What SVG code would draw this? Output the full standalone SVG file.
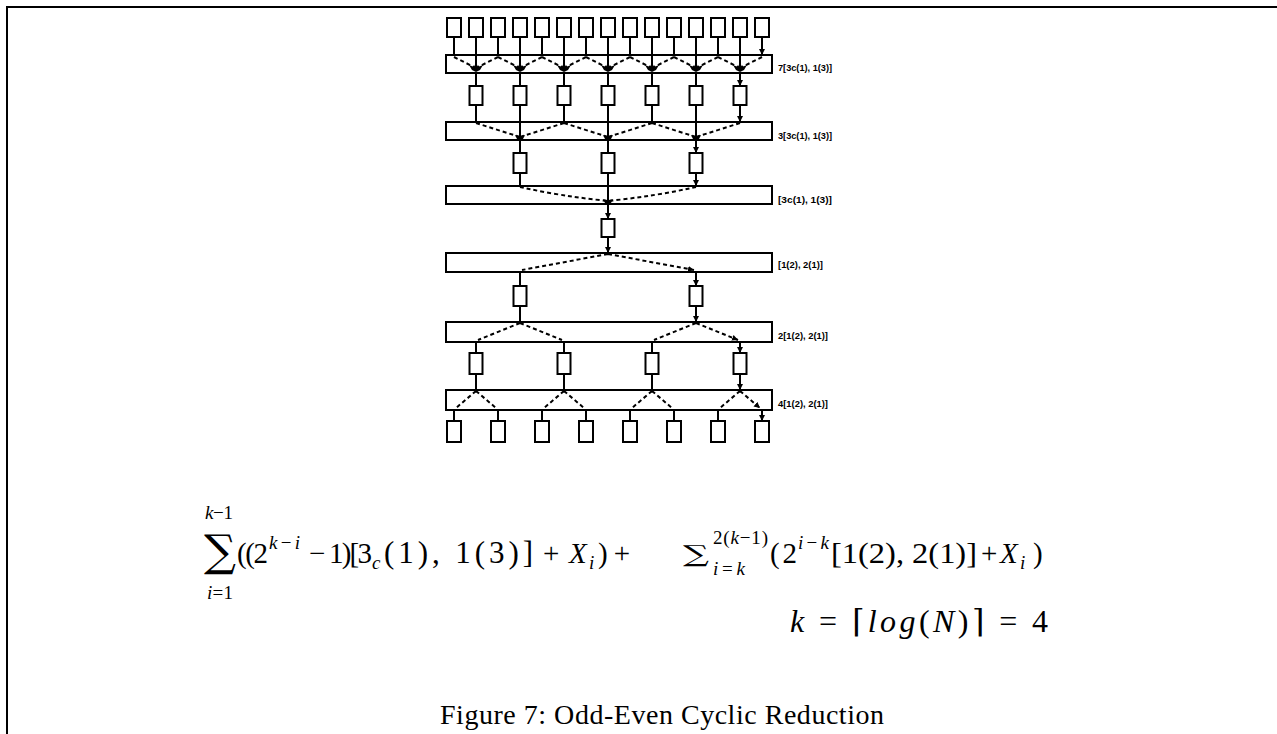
<svg xmlns="http://www.w3.org/2000/svg" width="1277" height="734" viewBox="0 0 1277 734">
<style>
.bx{fill:#fff;stroke:#000;stroke-width:2}
.bar{fill:#fff;stroke:#000;stroke-width:2}
.ln{stroke:#000;stroke-width:2;fill:none}
.ar{stroke:#000;stroke-width:2;fill:none;marker-end:url(#ah)}
.ds{stroke:#000;stroke-width:2;fill:none;stroke-dasharray:4 3}
.dsa{stroke:#000;stroke-width:2;fill:none;stroke-dasharray:4 3;marker-end:url(#ah)}
.lbl{font-family:"Liberation Sans",Arial,sans-serif;font-size:9.5px;font-weight:bold;fill:#000}
.m{font-family:"Liberation Serif","DejaVu Serif",serif;font-size:29px;fill:#000}
.s{font-family:"Liberation Serif","DejaVu Serif",serif;font-size:19px;fill:#000}
.sig{font-family:"DejaVu Serif",serif;fill:#000}
.it{font-style:italic}
.cap{font-family:"Liberation Serif","DejaVu Serif",serif;font-size:28px;fill:#000}
</style>
<defs>
<marker id="ah" markerUnits="userSpaceOnUse" markerWidth="7" markerHeight="7" refX="6" refY="3.5" orient="auto"><path d="M0,0.5 L6,3.5 L0,6.5 z" fill="#000"/></marker>
<path id="star" d="M-7,-3 L-2,-1 L0,-6 L2,-1 L7,-3 L4,2 L0,4 L-4,2 z" fill="#000"/>
<path id="star2" d="M-5,-2 L-1,-1 L0,-5 L1,-1 L5,-2 L3,2 L0,3 L-3,2 z" fill="#000"/>
</defs>
<path class="ln" d="M7,734 V7 H1277"/>
<g id="row0">
<rect class="bx" x="447" y="18" width="14" height="19"/><rect class="bx" x="469" y="18" width="14" height="19"/><rect class="bx" x="491" y="18" width="14" height="19"/><rect class="bx" x="513" y="18" width="14" height="19"/><rect class="bx" x="535" y="18" width="14" height="19"/><rect class="bx" x="557" y="18" width="14" height="19"/><rect class="bx" x="579" y="18" width="14" height="19"/><rect class="bx" x="601" y="18" width="14" height="19"/><rect class="bx" x="623" y="18" width="14" height="19"/><rect class="bx" x="645" y="18" width="14" height="19"/><rect class="bx" x="667" y="18" width="14" height="19"/><rect class="bx" x="689" y="18" width="14" height="19"/><rect class="bx" x="711" y="18" width="14" height="19"/><rect class="bx" x="733" y="18" width="14" height="19"/><rect class="bx" x="755" y="18" width="14" height="19"/>
</g>
<g id="bar1"><rect class="bar" x="446" y="55" width="326" height="18"/><text class="lbl" x="778" y="71" textLength="54" lengthAdjust="spacingAndGlyphs">7[3c(1), 1(3)]</text></g>
<g id="lvl1">
<rect class="bx" x="469.5" y="86" width="13" height="19"/><rect class="bx" x="513.5" y="86" width="13" height="19"/><rect class="bx" x="557.5" y="86" width="13" height="19"/><rect class="bx" x="601.5" y="86" width="13" height="19"/><rect class="bx" x="645.5" y="86" width="13" height="19"/><rect class="bx" x="689.5" y="86" width="13" height="19"/><rect class="bx" x="733.5" y="86" width="13" height="19"/>
</g>
<g id="bar2"><rect class="bar" x="446" y="122" width="326" height="18"/><text class="lbl" x="778" y="139" textLength="54" lengthAdjust="spacingAndGlyphs">3[3c(1), 1(3)]</text></g>
<g id="lvl2">
<rect class="bx" x="513.5" y="153" width="13" height="20"/><rect class="bx" x="601.5" y="153" width="13" height="20"/><rect class="bx" x="689.5" y="153" width="13" height="20"/>
</g>
<g id="bar3"><rect class="bar" x="446" y="186" width="326" height="18"/><text class="lbl" x="778" y="203" textLength="54" lengthAdjust="spacingAndGlyphs">[3c(1), 1(3)]</text></g>
<g id="lvl3"><rect class="bx" x="601.5" y="219" width="13" height="18"/></g>
<g id="bar4"><rect class="bar" x="446" y="253" width="326" height="19"/><text class="lbl" x="778" y="268" textLength="45" lengthAdjust="spacingAndGlyphs">[1(2), 2(1)]</text></g>
<g id="lvl4"><rect class="bx" x="513.5" y="286" width="13" height="20"/><rect class="bx" x="689.5" y="286" width="13" height="20"/></g>
<g id="bar5"><rect class="bar" x="446" y="322" width="326" height="20"/><text class="lbl" x="778" y="339" textLength="50" lengthAdjust="spacingAndGlyphs">2[1(2), 2(1)]</text></g>
<g id="lvl5"><rect class="bx" x="469.5" y="353" width="13" height="21"/><rect class="bx" x="557.5" y="353" width="13" height="21"/><rect class="bx" x="645.5" y="353" width="13" height="21"/><rect class="bx" x="733.5" y="353" width="13" height="21"/></g>
<g id="bar6"><rect class="bar" x="446" y="390" width="326" height="20"/><text class="lbl" x="778" y="407" textLength="50" lengthAdjust="spacingAndGlyphs">4[1(2), 2(1)]</text></g>
<g id="row7">
<rect class="bx" x="447" y="421" width="14" height="21"/><rect class="bx" x="491" y="421" width="14" height="21"/><rect class="bx" x="535" y="421" width="14" height="21"/><rect class="bx" x="579" y="421" width="14" height="21"/><rect class="bx" x="623" y="421" width="14" height="21"/><rect class="bx" x="667" y="421" width="14" height="21"/><rect class="bx" x="711" y="421" width="14" height="21"/><rect class="bx" x="755" y="421" width="14" height="21"/>
</g>
<g id="connectors">
<path class="ar" d="M454,37V55M476,37V55M498,37V55M520,37V55M542,37V55M564,37V55M586,37V55M608,37V55M630,37V55M652,37V55M674,37V55M696,37V55M718,37V55M740,37V55M762,37V55"/>
<path class="ln" d="M476,55V67M520,55V67M564,55V67M608,55V67M652,55V67M696,55V67M740,55V67"/>
<path class="ds" d="M454,57L476,68M498,57L476,68M498,57L520,68M542,57L520,68M542,57L564,68M586,57L564,68M586,57L608,68M630,57L608,68M630,57L652,68M674,57L652,68M674,57L696,68M718,57L696,68M718,57L740,68M762,57L740,68"/>
<use href="#star" x="476" y="68"/><use href="#star" x="520" y="68"/><use href="#star" x="564" y="68"/><use href="#star" x="608" y="68"/><use href="#star" x="652" y="68"/><use href="#star" x="696" y="68"/><use href="#star" x="740" y="68"/>
<path class="ar" d="M476,73V86M520,73V86M564,73V86M608,73V86M652,73V86M696,73V86M740,73V86"/>
<path class="ar" d="M476,105V122M520,105V122M564,105V122M608,105V122M652,105V122M696,105V122M740,105V122"/>
<path class="ln" d="M520,122V137M608,122V137M696,122V137"/>
<path class="ds" d="M476,123L520,137M564,123L520,137M564,123L608,137M652,123L608,137M652,123L696,137M740,123L696,137"/>
<use href="#star2" x="520" y="137"/><use href="#star2" x="608" y="137"/><use href="#star2" x="696" y="137"/>
<path class="ar" d="M520,140V153M608,140V153M696,140V153"/>
<path class="ar" d="M520,173V186M608,173V186M696,173V186"/>
<path class="ln" d="M608,186V201"/>
<path class="ds" d="M520,187Q560,196 608,201M696,187Q656,196 608,201"/>
<use href="#star2" x="608" y="201"/>
<path class="ar" d="M608,204V219"/>
<path class="ar" d="M608,237V253"/>
<path class="dsa" d="M608,254L522,270M608,254L694,270"/>
<path class="ar" d="M520,272V286M696,272V286"/>
<path class="ar" d="M520,306V322M696,306V322"/>
<path class="dsa" d="M520,323L478,340M520,323L562,340M696,323L654,340M696,323L738,340"/>
<path class="ar" d="M476,342V353M564,342V353M652,342V353M740,342V353"/>
<path class="ar" d="M476,374V390M564,374V390M652,374V390M740,374V390"/>
<path class="dsa" d="M476,391L456,408M476,391L496,408M564,391L544,408M564,391L584,408M652,391L632,408M652,391L672,408M740,391L720,408M740,391L760,408"/>
<path class="ar" d="M454,410V421M498,410V421M542,410V421M586,410V421M630,410V421M674,410V421M718,410V421M762,410V421"/>
</g>
<g id="formula">
<text class="s" x="205" y="519" textLength="28" lengthAdjust="spacing"><tspan class="it">k</tspan>−1</text>
<text class="sig" x="204" y="566" style="font-size:44px" textLength="32" lengthAdjust="spacingAndGlyphs">∑</text>
<text class="s" x="207" y="599" textLength="26" lengthAdjust="spacing"><tspan class="it">i</tspan>=1</text>
<text class="m" x="237" y="563" textLength="31" lengthAdjust="spacing">((2</text>
<text class="s" x="269" y="549" textLength="31" lengthAdjust="spacing"><tspan class="it">k</tspan>−<tspan class="it">i</tspan></text>
<text class="m" x="309" y="563" textLength="63" lengthAdjust="spacing">− 1)[3</text>
<text class="s it" x="372" y="569">c</text>
<text class="m" x="384" y="563" style="font-size:31px" textLength="149" lengthAdjust="spacing">(1), 1(3)]</text>
<text class="m" x="543" y="563">+</text>
<text class="m it" x="569" y="563">X</text>
<text class="s it" x="589" y="569">i</text>
<text class="m" x="598" y="563" textLength="32" lengthAdjust="spacing">)+</text>
<text class="sig" x="683" y="562" style="font-size:23px" textLength="26" lengthAdjust="spacingAndGlyphs">∑</text>
<text class="s" x="713" y="544" textLength="55" lengthAdjust="spacing">2(<tspan class="it">k</tspan>−1)</text>
<text class="s" x="713" y="575" textLength="32" lengthAdjust="spacing"><tspan class="it">i</tspan>=<tspan class="it">k</tspan></text>
<text class="m" x="770" y="563" textLength="27" lengthAdjust="spacing">(2</text>
<text class="s" x="798" y="549" textLength="31" lengthAdjust="spacing"><tspan class="it">i</tspan>−<tspan class="it">k</tspan></text>
<text class="m" x="831" y="563" textLength="146" lengthAdjust="spacingAndGlyphs">[1(2), 2(1)]</text>
<text class="m" x="981" y="563">+</text>
<text class="m it" x="1000" y="563">X</text>
<text class="s it" x="1020" y="569">i</text>
<text class="m" x="1033" y="563">)</text>
<text class="m" x="790" y="632" style="font-size:32px" textLength="258" lengthAdjust="spacing"><tspan class="it">k</tspan> = ⌈<tspan class="it">log</tspan>(<tspan class="it">N</tspan>)⌉ = 4</text>
</g>
<text class="cap" x="440" y="724" textLength="444" lengthAdjust="spacing">Figure 7: Odd-Even Cyclic Reduction</text>
</svg>
